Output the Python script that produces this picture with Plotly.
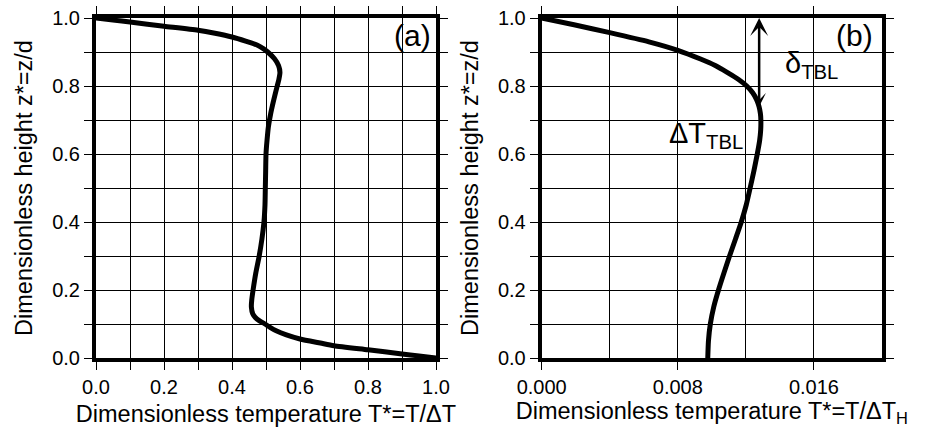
import plotly.graph_objects as go

# ---- data ----
# panel (a): dimensionless temperature profile
z_a = [1.00, 0.994, 0.988, 0.976, 0.964, 0.955, 0.944, 0.932, 0.92, 0.91, 0.90,
       0.88, 0.86, 0.84, 0.82, 0.80, 0.76, 0.72, 0.68, 0.64, 0.60, 0.55, 0.50,
       0.45, 0.40, 0.35, 0.30, 0.25, 0.20, 0.17, 0.15, 0.13, 0.12, 0.11, 0.10,
       0.09, 0.08, 0.068, 0.056, 0.044, 0.036, 0.024, 0.012, 0.006, 0.00]
T_a = [0.00, 0.05, 0.10, 0.20, 0.30, 0.35, 0.40, 0.44, 0.475, 0.492, 0.505,
       0.525, 0.537, 0.541, 0.538, 0.533, 0.523, 0.514, 0.507, 0.503, 0.500, 0.499, 0.498,
       0.497, 0.494, 0.488, 0.480, 0.470, 0.462, 0.458, 0.457, 0.461, 0.468, 0.480, 0.497,
       0.512, 0.530, 0.56, 0.60, 0.66, 0.70, 0.80, 0.90, 0.95, 1.00]

# panel (b): dimensionless temperature profile (scaled by Delta T_H)
z_b = [1.00, 0.98, 0.957, 0.93, 0.905, 0.88, 0.86, 0.84, 0.82, 0.80, 0.78,
       0.76, 0.74, 0.72, 0.70, 0.67, 0.64, 0.60, 0.55, 0.50, 0.45, 0.40,
       0.35, 0.30, 0.25, 0.20, 0.15, 0.10, 0.05, 0.00]
T_b = [0.0, 0.0019, 0.0040, 0.0063, 0.0080, 0.0093, 0.0102, 0.0109, 0.01155, 0.01205, 0.01240,
       0.01263, 0.01277, 0.01285, 0.01288, 0.01287, 0.01281, 0.01267, 0.01247, 0.01225, 0.01202, 0.01173,
       0.01139, 0.01104, 0.01071, 0.01039, 0.01011, 0.00991, 0.00980, 0.00976]

# ticks
ticks_a_x = [0.0, 0.1, 0.2, 0.3, 0.4, 0.5, 0.6, 0.7, 0.8, 0.9, 1.0]
ticktext_a_x = ["0.0", "", "0.2", "", "0.4", "", "0.6", "", "0.8", "", "1.0"]
ticks_y = [0.0, 0.1, 0.2, 0.3, 0.4, 0.5, 0.6, 0.7, 0.8, 0.9, 1.0]
ticktext_y = ["0.0", "", "0.2", "", "0.4", "", "0.6", "", "0.8", "", "1.0"]
ticks_b_x = [0.0, 0.008, 0.016]
ticktext_b_x = ["0.000", "0.008", "0.016"]

# annotation values
delta_x = 0.01278
delta_z_bottom = 0.735
delta_z_top = 1.0

FONT = "Liberation Sans, Arial, Helvetica, sans-serif"
TICK_SIZE = 20
TITLE_SIZE = 23.5

fig = go.Figure()
fig.add_trace(go.Scatter(x=T_a, y=z_a, mode="lines", line=dict(color="black", width=5, shape="spline", smoothing=0.6),
                         xaxis="x", yaxis="y", showlegend=False, hoverinfo="skip"))
fig.add_trace(go.Scatter(x=T_b, y=z_b, mode="lines", line=dict(color="black", width=5, shape="spline", smoothing=0.6),
                         xaxis="x2", yaxis="y2", showlegend=False, hoverinfo="skip"))

W, H = 925, 427
ydom = [1 - 358 / H, 1 - 18 / H]

common = dict(showline=True, linewidth=4, linecolor="black", mirror="allticks",
              ticks="outside", ticklen=8, tickwidth=1, tickcolor="black",
              showgrid=True, gridcolor="black", gridwidth=1, zeroline=False,
              tickfont=dict(family=FONT, size=TICK_SIZE, color="black"),
              layer="above traces", automargin=False)

fig.update_layout(
    width=W, height=H, margin=dict(l=0, r=0, t=0, b=0),
    paper_bgcolor="white", plot_bgcolor="white", template="none",
    font=dict(family=FONT, color="black"),
    xaxis=dict(domain=[96 / W, 436 / W], range=[0, 1], tickmode="array",
               tickvals=ticks_a_x, ticktext=ticktext_a_x, anchor="y",
               title=dict(text="Dimensionless temperature T*=T/ΔT", font=dict(family=FONT, size=TITLE_SIZE), standoff=10),
               **common),
    yaxis=dict(domain=ydom, range=[0, 1], tickmode="array",
               tickvals=ticks_y, ticktext=ticktext_y, anchor="x",
               title=dict(text="Dimensionless height z*=z/d", font=dict(family=FONT, size=TITLE_SIZE), standoff=14),
               **common),
    xaxis2=dict(domain=[541.7 / W, 882 / W], range=[0, 0.02], tickmode="array",
                tickvals=ticks_b_x, ticktext=ticktext_b_x, anchor="y2",
                minor=dict(dtick=0.004, tick0=0, showgrid=True, gridcolor="black", gridwidth=1, ticks=""),
                title=dict(text="Dimensionless temperature T*=T/ΔT<sub>H</sub>", font=dict(family=FONT, size=TITLE_SIZE), standoff=10),
                **common),
    yaxis2=dict(domain=ydom, range=[0, 1], tickmode="array",
                tickvals=ticks_y, ticktext=ticktext_y, anchor="x2",
                title=dict(text="Dimensionless height z*=z/d", font=dict(family=FONT, size=TITLE_SIZE), standoff=14),
                **common),
)

fig.add_annotation(x=0.992, y=0.95, xref="x", yref="y", text="(a)", showarrow=False,
                   xanchor="right", yanchor="middle", font=dict(family=FONT, size=30, color="black"))
fig.add_annotation(x=0.0196, y=0.95, xref="x2", yref="y2", text="(b)", showarrow=False,
                   xanchor="right", yanchor="middle", font=dict(family=FONT, size=30, color="black"))

# double-headed arrow for delta_TBL
fig.add_annotation(x=delta_x, y=delta_z_top, ax=delta_x, ay=delta_z_bottom,
                   xref="x2", yref="y2", axref="x2", ayref="y2", text="",
                   showarrow=True, arrowside="end+start", arrowhead=3, startarrowhead=3,
                   arrowsize=1.2, startarrowsize=0.9, arrowwidth=2.5, arrowcolor="black",
                   standoff=0, startstandoff=0)

fig.add_annotation(x=0.01419, y=0.862, xref="x2", yref="y2", text="δ<sub>TBL</sub>", showarrow=False,
                   xanchor="left", yanchor="middle", font=dict(family=FONT, size=29, color="black"))
fig.add_annotation(x=0.01196, y=0.655, xref="x2", yref="y2", text="ΔT<sub>TBL</sub>", showarrow=False,
                   xanchor="right", yanchor="middle", font=dict(family=FONT, size=29, color="black"))

fig.write_html("out.html", config={"displayModeBar": False},
               post_script="document.body.style.margin='0';document.body.style.overflow='hidden';")
